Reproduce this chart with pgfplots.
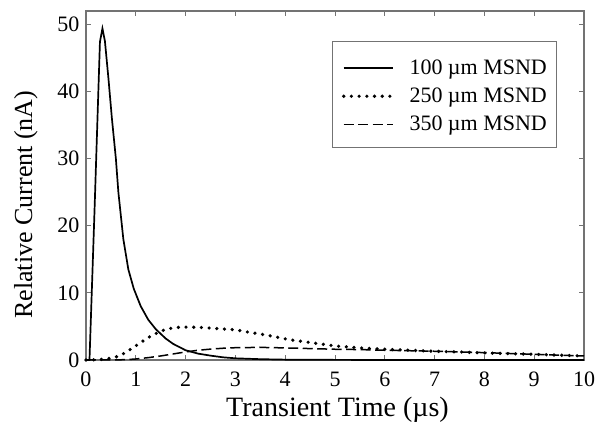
\documentclass[border=0pt]{standalone}
\usepackage{fontspec}
\setmainfont{Liberation Serif}
\usepackage{pgfplots}
\pgfplotsset{compat=1.18}

\begin{document}
\begin{tikzpicture}
\begin{axis}[
    scale only axis,
    width=498pt, height=349pt,
    xmin=0, xmax=10,
    ymin=0, ymax=52,
    xtick={0,1,...,10},
    ytick={0,10,20,30,40,50},
    tick align=inside,
    major tick length=5pt,
    axis line style={black!55, line width=1.2pt},
    tick style={black!55, line width=1pt},
    /pgf/number format/assume math mode=true,
    ticklabel style={font=\fontsize{22}{22}\selectfont},
    xticklabel style={anchor=base, yshift=-27pt},
    yticklabel style={anchor=east, xshift=-3pt},
    xlabel={Transient Time (\textmu s)},
    ylabel={Relative Current (nA)},
    xlabel style={font=\fontsize{28}{28}\selectfont, at={(axis description cs:0.505,-0.1633)}, anchor=base},
    ylabel style={font=\fontsize{26}{26}\selectfont, at={(axis description cs:-0.1084,0.445)}, anchor=base},
    legend style={at={(0.493,0.914)}, anchor=north west,
        font=\fontsize{22}{22}\selectfont, draw=black!55, line width=0.8pt,
        nodes={inner sep=0pt, text height=21pt, text depth=4.7pt},
        inner xsep=10pt, inner ysep=12pt, row sep=2.3pt, column sep=15pt},
    legend cell align=left,
    legend image code/.code={\draw[#1] (0pt,-2pt) -- (49pt,-2pt);},
    clip=false,
]
\addplot[black, line width=1.7pt] coordinates {
(0,0) (0.07,0) (0.17,22) (0.28,47.4) (0.33,49.4) (0.38,47.5) (0.45,42)
(0.52,36) (0.6,30) (0.65,25) (0.75,18) (0.85,13.5) (0.96,10.6) (1.1,8)
(1.25,6.0) (1.4,4.6) (1.5,3.9) (1.6,3.2) (1.75,2.4) (2.0,1.45) (2.25,0.95)
(2.5,0.65) (2.75,0.4) (3.0,0.25) (3.5,0.12) (4.0,0.05) (5,0.02) (6,0) (10,0)
};
\addlegendentry{100 \textmu m MSND}
\addplot[black, line width=3.6pt, line cap=round, dash pattern=on 0pt off 7.7pt] coordinates {
(0,0) (0.2,0.03) (0.4,0.15) (0.55,0.35) (0.65,0.56) (0.78,1.06) (0.94,1.8)
(1.08,2.5) (1.24,3.3) (1.39,3.9) (1.54,4.4) (1.69,4.7) (1.82,4.85) (2.0,4.9)
(2.3,4.85) (2.6,4.7) (3.0,4.5) (3.3,4.1) (3.63,3.7) (4.1,3.0) (4.5,2.6)
(5,2.1) (5.5,1.8) (6,1.6) (6.5,1.45) (7,1.3) (7.5,1.2) (8,1.05) (8.5,0.95)
(9,0.85) (9.5,0.72) (10,0.6)
};
\addlegendentry{250 \textmu m MSND}
\addplot[black, line width=1.5pt, dash pattern=on 10pt off 4.5pt] coordinates {
(0,0) (0.5,0) (0.8,0.05) (1.0,0.15) (1.25,0.35) (1.5,0.6) (1.75,0.9) (2.0,1.2)
(2.25,1.45) (2.5,1.62) (2.75,1.75) (3.0,1.83) (3.5,1.88) (4.0,1.8) (4.5,1.7)
(5,1.6) (5.5,1.55) (6,1.45) (6.5,1.38) (7,1.3) (7.5,1.2) (8,1.1) (8.5,0.97)
(9,0.85) (9.5,0.72) (10,0.6)
};
\addlegendentry{350 \textmu m MSND}
\coordinate (bl) at (rel axis cs:0,0);
\coordinate (tr) at (rel axis cs:1,1);
\end{axis}
\pgfresetboundingbox
\path[use as bounding box] ([shift={(-86pt,-71pt)}]bl) rectangle ([shift={(13pt,11pt)}]tr);
\end{tikzpicture}
\end{document}
